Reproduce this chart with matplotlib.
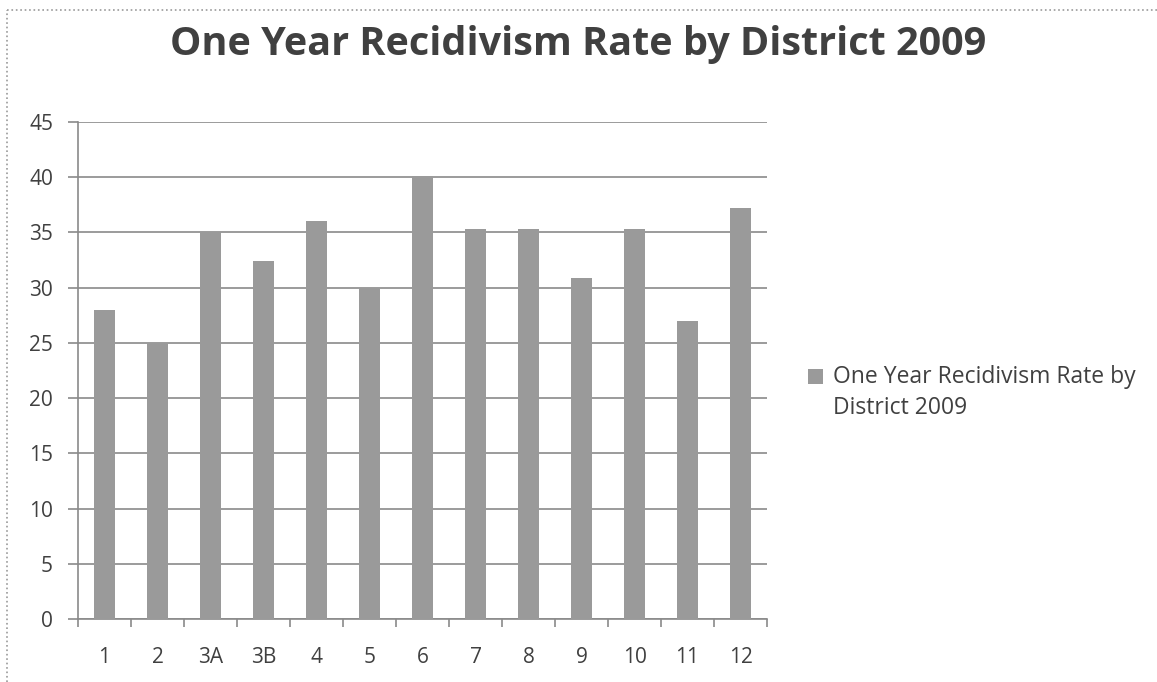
import matplotlib
matplotlib.use("Agg")
import matplotlib.pyplot as plt
import numpy as np
from matplotlib.patches import Rectangle
from matplotlib.lines import Line2D
from matplotlib.legend_handler import HandlerPatch

categories = ["1", "2", "3A", "3B", "4", "5", "6", "7", "8", "9", "10", "11", "12"]
values = [28, 25, 35, 32.4, 36, 30, 40.1, 35.3, 35.3, 30.9, 35.3, 27, 37.2]
series_name = "One Year Recidivism Rate by\nDistrict 2009"
title = "One Year Recidivism Rate by District 2009"
yticks = [0, 5, 10, 15, 20, 25, 30, 35, 40, 45]

plt.rcParams['font.family'] = ['Open Sans', 'DejaVu Sans']

W, H = 1157, 682
fig = plt.figure(figsize=(W / 100, H / 100), dpi=100)
fig.patch.set_facecolor('white')
ax = fig.add_axes([78 / W, 1 - 619 / H, 689 / W, 497 / H])

x = np.arange(len(categories))
bar_color = '#9a9a9a'
bars = ax.bar(x, values, width=0.415, color=bar_color, zorder=3, label=series_name)

ax.set_xlim(-0.5, len(categories) - 0.5)
ax.set_ylim(0, 45)
ax.set_yticks(yticks)
ax.yaxis.grid(True, color='#8a8a8a', linewidth=1.2, zorder=0)
ax.set_axisbelow(True)

for s in ['top', 'right']:
    ax.spines[s].set_visible(False)
for s in ['left', 'bottom']:
    ax.spines[s].set_color('#8a8a8a')
    ax.spines[s].set_linewidth(1.2)

text_color = '#404040'
ax.set_xticks(x)
ax.set_xticklabels(categories)
ax.set_xticks(np.arange(-0.5, len(categories), 1.0), minor=True)
ax.tick_params(axis='x', which='major', length=0, pad=20, labelsize=15, labelcolor=text_color)
ax.tick_params(axis='x', which='minor', length=6, color='#8a8a8a', width=1.2, direction='out')
ax.tick_params(axis='y', length=7, color='#8a8a8a', width=1.2, labelsize=15,
               labelcolor=text_color, pad=11)

fig.text(0.5, 1 - 45 / H, title, ha='center', va='center', fontsize=28.5,
         fontweight='bold', color=text_color)

fs = 16.5


def shifted_patch(legend, orig_handle, xdescent, ydescent, width, height, fontsize):
    return Rectangle((-xdescent, -ydescent + 0.72 * fontsize), width, height)


proxy = Rectangle((0, 0), 1, 1, facecolor=bar_color, edgecolor='none')
leg = fig.legend(handles=[proxy], labels=[series_name],
                 loc='upper left', bbox_to_anchor=(787 / W, 1 - 344 / H), frameon=False,
                 fontsize=fs, handlelength=0.66, handleheight=0.66, handletextpad=0.45,
                 labelcolor=text_color,
                 handler_map={Rectangle: HandlerPatch(patch_func=shifted_patch)})
for t in leg.get_texts():
    t.set_linespacing(1.4)

border_kw = dict(transform=fig.transFigure, color='#9a9a9a', linewidth=1.2, linestyle=':')
fig.add_artist(Line2D([7 / W, 7 / W], [0, 1 - 10 / H], **border_kw))
fig.add_artist(Line2D([7 / W, 1], [1 - 10 / H, 1 - 10 / H], **border_kw))

fig.savefig('out.png', dpi=100)
